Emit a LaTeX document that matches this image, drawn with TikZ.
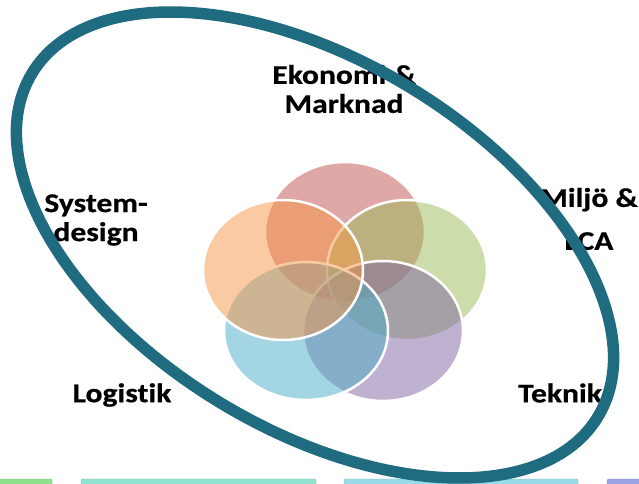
\documentclass[tikz,border=0pt]{standalone}
\usepackage{fontspec}
\setmainfont{Carlito}[FakeStretch=1.17, FakeBold=0.6, Ligatures={NoCommon,NoRequired,NoContextual}]
\definecolor{ringteal}{HTML}{1F6B80}
\definecolor{vred}{HTML}{C0504D}
\definecolor{vgreen}{HTML}{9BBB59}
\definecolor{vpurple}{HTML}{8064A2}
\definecolor{vblue}{HTML}{4BACC6}
\definecolor{vorange}{HTML}{F79646}
\definecolor{bargreen}{HTML}{8FE08A}
\definecolor{barteal}{HTML}{8FE3CF}
\definecolor{barblue}{HTML}{9ADBE8}
\definecolor{barpurple}{HTML}{9EA3E6}
\tikzset{
  vennfill/.style={fill=#1, fill opacity=0.5, draw=none},
  vennedge/.style={draw=white, line width=2.5pt},
  lbl/.style={font=\fontsize{27}{29}\selectfont\bfseries, align=center, inner sep=0pt, text=black},
  barstyle/.style={fill=#1, draw=#1!80!black, line width=0.4pt, rounded corners=1.5pt}
}
\begin{document}
\begin{tikzpicture}[x=1pt,y=1pt]
\useasboundingbox (0,0) rectangle (639,483);
\clip (0,0) rectangle (639,483);
\fill[white] (0,0) rectangle (639,483);
% bottom bars
\path[barstyle=bargreen] (-5,-4) rectangle (52,4);
\path[barstyle=barteal] (81,-4) rectangle (316,4);
\path[barstyle=barblue] (344,-4) rectangle (578,4);
\path[barstyle=barpurple] (607,-4) rectangle (650,4);
% venn ellipses
\coordinate (cr) at (345,251);
\coordinate (cg) at (407,213);
\coordinate (cp) at (383,152);
\coordinate (cb) at (306,152);
\coordinate (co) at (283,213);
\path[vennfill=vred] (cr) ellipse (80 and 70);
\path[vennedge] (cr) ellipse (80 and 70);
\path[vennfill=vgreen] (cg) ellipse (80 and 70);
\path[vennedge] (cg) ellipse (80 and 70);
\path[vennfill=vpurple] (cp) ellipse (80 and 70);
\path[vennedge] (cp) ellipse (80 and 70);
\path[vennfill=vblue] (cb) ellipse (82 and 69);
\path[vennedge] (cb) ellipse (82 and 69);
\path[vennfill=vorange] (co) ellipse (80 and 70);
\path[vennedge] (co) ellipse (80 and 70);
% labels
\node[lbl] (eko) at (344,394) {Ekonomi \&\\Marknad};
\node[lbl] (sys) at (96,263) {System-\\design};
\node[lbl] (mil) at (589,264) {Milj\"o \&\\[14pt]LCA};
\node[lbl] (log) at (122,88) {Logistik};
\node[lbl] (tek) at (560,90) {Teknik};
% big ring
\coordinate (rc) at (315,238);
\draw[ringteal, line width=11.5pt, rotate around={-31.3:(rc)}] (rc) ellipse (331 and 184);
\end{tikzpicture}
\end{document}
